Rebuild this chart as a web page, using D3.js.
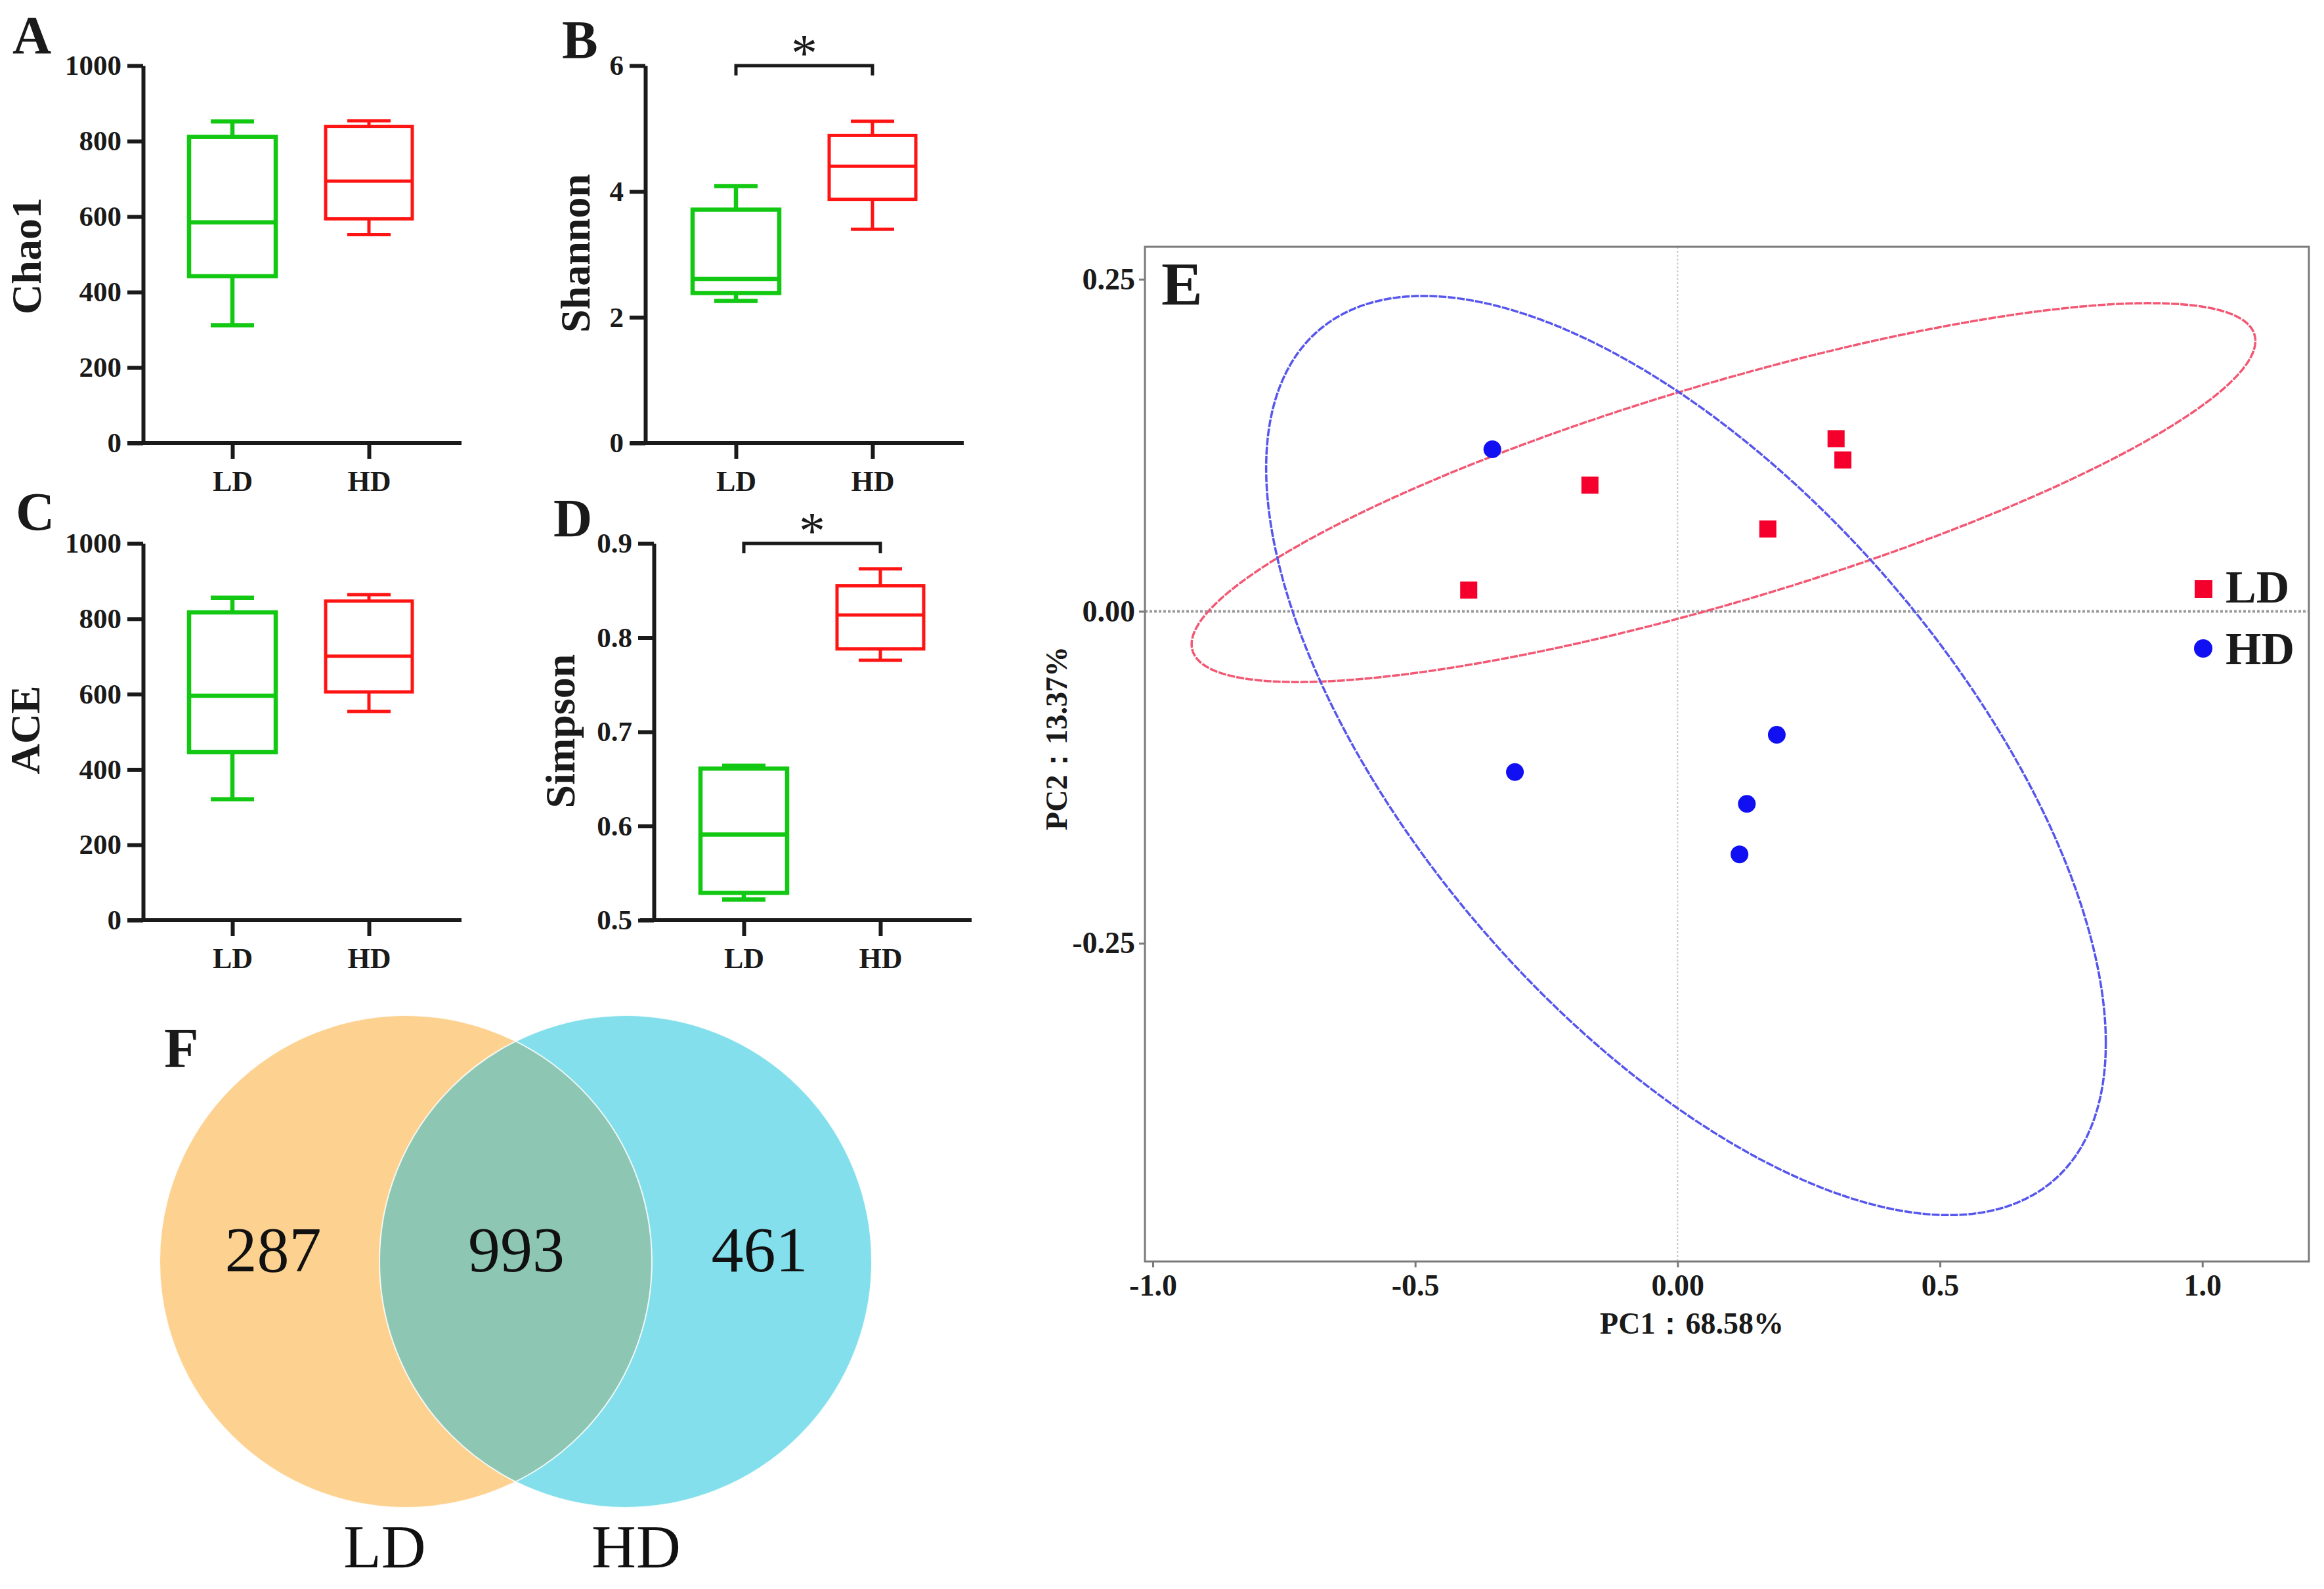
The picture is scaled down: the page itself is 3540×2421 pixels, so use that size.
<!DOCTYPE html>
<html><head><meta charset="utf-8">
<script src="https://cdn.jsdelivr.net/npm/d3@7"></script>
<style>body{margin:0;background:#fff} svg{display:block}</style>
</head><body>
<svg id="fig" width="3540" height="2421"></svg>
<script>
// ---------------- DATA ----------------
const groups = ["LD", "HD"];
// five-number summaries: [min, q1, median, q3, max]
const chao1LD   = [312, 442, 585, 811, 852];
const chao1HD   = [552, 594, 694, 839, 854];
const shannonLD = [2.26, 2.385, 2.61, 3.71, 4.085];
const shannonHD = [3.40, 3.875, 4.40, 4.89, 5.115];
const aceLD     = [321, 446, 596, 817, 856];
const aceHD     = [554, 606, 701, 847, 864];
const simpsonLD = [0.522, 0.529, 0.591, 0.661, 0.664];
const simpsonHD = [0.776, 0.788, 0.824, 0.855, 0.873];
const chao1Ticks   = [0, 200, 400, 600, 800, 1000];
const shannonTicks = [0, 2, 4, 6];
const aceTicks     = [0, 200, 400, 600, 800, 1000];
const simpsonTicks = [0.5, 0.6, 0.7, 0.8, 0.9];

// PCoA scores
const pcoaLDx = [-0.398, -0.167, 0.172, 0.302, 0.315];
const pcoaLDy = [0.016, 0.095, 0.062, 0.130, 0.114];
const pcoaHDx = [-0.353, -0.310, 0.189, 0.132, 0.118];
const pcoaHDy = [0.122, -0.121, -0.093, -0.145, -0.183];
const pcXTicks = [-1, -0.5, 0, 0.5, 1];
const pcXTickLabels = ["-1.0", "-0.5", "0.00", "0.5", "1.0"];
const pcYTicks = [0.25, 0, -0.25];
const pcYTickLabels = ["0.25", "0.00", "-0.25"];
// confidence ellipses (data units): centre + two conjugate semi-diameters
const ellipseLD = {cx: 0.0875, cy: 0.0894, ax: 1.0135, ay: 0.1142, bx: 0, by: 0.0855};
const ellipseHD = {cx: 0.016, cy: -0.1086, ax: 0.800, ay: -0.2165, bx: 0, by: 0.270};

// Venn
const vennRegions = ["LD only", "LD and HD", "HD only"];
const vennCounts = [287, 993, 461];

// ---------------- STYLE ----------------
const SERIF = "'Liberation Serif','Times New Roman',Times,serif";
const GREEN = "#12c812", RED = "#ff1414", AXIS = "#1a1a1a";
const svg = d3.select("#fig");
svg.append("rect").attr("width", 3540).attr("height", 2421).attr("fill", "#fff");

// ---------------- BOX PANELS ----------------
function boxPanel(cfg) {
  const y = d3.scaleLinear().domain(cfg.domain).range([cfg.yBot, cfg.yTop]);
  const x = d3.scalePoint().domain(groups).range(cfg.centers);
  const g = svg.append("g");

  // y axis
  const ya = g.append("g").attr("transform", `translate(${cfg.x0},0)`)
    .call(d3.axisLeft(y).tickValues(cfg.ticks).tickSize(24).tickSizeOuter(0)
      .tickPadding(9).tickFormat(cfg.fmt));
  ya.select(".domain").attr("stroke", AXIS).attr("stroke-width", 6);
  ya.selectAll(".tick line").attr("stroke", AXIS).attr("stroke-width", 6);
  ya.selectAll(".tick text").attr("fill", AXIS).style("font-family", SERIF)
    .style("font-size", "43px").style("font-weight", "bold");

  // x axis
  const xa = g.append("g").attr("transform", `translate(0,${cfg.yBot})`)
    .call(d3.axisBottom(x).tickSize(24).tickSizeOuter(0).tickPadding(18));
  xa.select(".domain").remove();
  xa.append("line").attr("x1", cfg.xStart).attr("x2", cfg.xEnd)
    .attr("stroke", AXIS).attr("stroke-width", 6);
  xa.selectAll(".tick line").attr("stroke", AXIS).attr("stroke-width", 6);
  xa.selectAll(".tick text").attr("fill", AXIS).style("font-family", SERIF)
    .style("font-size", "44px").style("font-weight", "bold");

  // boxes
  const hw = 66, cw = 33;
  cfg.stats.forEach((s, i) => {
    const cx = x(groups[i]);
    const col = i === 0 ? GREEN : RED;
    const sw = i === 0 ? 6.5 : 5;
    const b = g.append("g").attr("stroke", col).attr("stroke-width", sw).attr("fill", "none");
    b.append("line").attr("x1", cx).attr("x2", cx).attr("y1", y(s[4])).attr("y2", y(s[3]));
    b.append("line").attr("x1", cx).attr("x2", cx).attr("y1", y(s[1])).attr("y2", y(s[0]));
    b.append("line").attr("x1", cx - cw).attr("x2", cx + cw).attr("y1", y(s[4])).attr("y2", y(s[4]));
    b.append("line").attr("x1", cx - cw).attr("x2", cx + cw).attr("y1", y(s[0])).attr("y2", y(s[0]));
    b.append("rect").attr("x", cx - hw).attr("width", 2 * hw)
      .attr("y", y(s[3])).attr("height", y(s[1]) - y(s[3]));
    b.append("line").attr("x1", cx - hw).attr("x2", cx + hw).attr("y1", y(s[2])).attr("y2", y(s[2]));
  });

  // significance bracket
  if (cfg.sig) {
    const by = y(cfg.domain[1]);
    g.append("path")
      .attr("d", `M${x("LD")},${by + 15}V${by}H${x("HD")}V${by + 15}`)
      .attr("fill", "none").attr("stroke", AXIS).attr("stroke-width", 5);
    g.append("text").attr("x", (x("LD") + x("HD")) / 2).attr("y", by + 8)
      .attr("text-anchor", "middle").style("font-family", SERIF)
      .style("font-size", "80px").attr("fill", AXIS).text(cfg.sig);
  }

  // y title
  g.append("text").attr("transform", `translate(${cfg.titleX},${cfg.titleY}) rotate(-90)`)
    .attr("text-anchor", "middle").style("font-family", SERIF).style("font-size", "64px")
    .style("font-weight", "bold").attr("fill", AXIS).text(cfg.title);
  // panel letter
  g.append("text").attr("x", cfg.letterX).attr("y", cfg.letterY).style("font-family", SERIF)
    .style("font-size", "82px").style("font-weight", "bold").attr("fill", AXIS).text(cfg.letter);
}

const fmtInt = d3.format("d");
boxPanel({letter: "A", letterX: 19, letterY: 81, title: "Chao1", titleX: 62, titleY: 390,
  domain: [0, 1000], ticks: chao1Ticks, fmt: fmtInt, stats: [chao1LD, chao1HD],
  x0: 218, yTop: 100, yBot: 675, xStart: 194, xEnd: 703, centers: [354, 562]});
boxPanel({letter: "B", letterX: 856, letterY: 88, title: "Shannon", titleX: 898, titleY: 386,
  domain: [0, 6], ticks: shannonTicks, fmt: fmtInt, stats: [shannonLD, shannonHD], sig: "*",
  x0: 983, yTop: 100, yBot: 675, xStart: 960, xEnd: 1468, centers: [1121, 1329]});
boxPanel({letter: "C", letterX: 24, letterY: 807, title: "ACE", titleX: 60, titleY: 1112,
  domain: [0, 1000], ticks: aceTicks, fmt: fmtInt, stats: [aceLD, aceHD],
  x0: 218, yTop: 828, yBot: 1402, xStart: 194, xEnd: 703, centers: [354, 562]});
boxPanel({letter: "D", letterX: 843, letterY: 817, title: "Simpson", titleX: 875, titleY: 1114,
  domain: [0.5, 0.9], ticks: simpsonTicks, fmt: d3.format(".1f"), stats: [simpsonLD, simpsonHD], sig: "*",
  x0: 996, yTop: 828, yBot: 1402, xStart: 975, xEnd: 1480, centers: [1133, 1341]});

// ---------------- PANEL E: PCoA ----------------
(function () {
  const L = 1744, R = 3517, T = 376, B = 1922;
  const x = d3.scaleLinear().domain([-1.015, 1.203]).range([L, R]);
  const y = d3.scaleLinear().domain([-0.4896, 0.2745]).range([B, T]);
  const g = svg.append("g");

  // zero reference lines
  g.append("line").attr("x1", x(0)).attr("x2", x(0)).attr("y1", T).attr("y2", B)
    .attr("stroke", "#c8c8c8").attr("stroke-width", 2).attr("stroke-dasharray", "3 3");
  g.append("line").attr("x1", L).attr("x2", R).attr("y1", y(0)).attr("y2", y(0))
    .attr("stroke", "#9a9a9a").attr("stroke-width", 4).attr("stroke-dasharray", "4 3");

  // ellipses
  const ts = d3.range(0, 2 * Math.PI, Math.PI / 180);
  const line = d3.line().curve(d3.curveLinearClosed);
  [[ellipseLD, "#f25874"], [ellipseHD, "#5656ee"]].forEach(([e, col]) => {
    const pts = ts.map(t => [x(e.cx + e.ax * Math.cos(t) + e.bx * Math.sin(t)),
                             y(e.cy + e.ay * Math.cos(t) + e.by * Math.sin(t))]);
    g.append("path").attr("d", line(pts)).attr("fill", "none").attr("stroke", col)
      .attr("stroke-width", 3.5).attr("stroke-dasharray", "12 2");
  });

  // points
  pcoaLDx.forEach((v, i) => {
    g.append("rect").attr("x", x(v) - 13).attr("y", y(pcoaLDy[i]) - 13)
      .attr("width", 26).attr("height", 26).attr("fill", "#f5002c");
  });
  pcoaHDx.forEach((v, i) => {
    g.append("circle").attr("cx", x(v)).attr("cy", y(pcoaHDy[i])).attr("r", 13.5).attr("fill", "#1010f2");
  });

  // frame
  g.append("rect").attr("x", L).attr("y", T).attr("width", R - L).attr("height", B - T)
    .attr("fill", "none").attr("stroke", "#7a7a7a").attr("stroke-width", 3);

  // axes
  const xa = g.append("g").attr("transform", `translate(0,${B})`)
    .call(d3.axisBottom(x).tickValues(pcXTicks).tickSize(9).tickSizeOuter(0).tickPadding(10)
      .tickFormat((d, i) => pcXTickLabels[i]));
  const ya = g.append("g").attr("transform", `translate(${L},0)`)
    .call(d3.axisLeft(y).tickValues(pcYTicks).tickSize(9).tickSizeOuter(0).tickPadding(6)
      .tickFormat((d, i) => pcYTickLabels[i]));
  [xa, ya].forEach(a => {
    a.select(".domain").remove();
    a.selectAll(".tick line").attr("stroke", "#7a7a7a").attr("stroke-width", 3);
    a.selectAll(".tick text").attr("fill", AXIS).style("font-family", SERIF)
      .style("font-size", "46px").style("font-weight", "bold");
  });

  g.append("text").attr("x", 2577).attr("y", 2032).attr("text-anchor", "middle")
    .style("font-family", SERIF).style("font-size", "46px").style("font-weight", "bold")
    .attr("fill", AXIS).text("PC1：68.58%");
  g.append("text").attr("transform", `translate(1625,1125) rotate(-90)`).attr("text-anchor", "middle")
    .style("font-family", SERIF).style("font-size", "46px").style("font-weight", "bold")
    .attr("fill", AXIS).text("PC2：13.37%");

  // panel letter
  g.append("text").attr("x", 1769).attr("y", 464).style("font-family", SERIF)
    .style("font-size", "94px").style("font-weight", "bold").attr("fill", AXIS).text("E");

  // legend
  const leg = g.append("g");
  leg.append("rect").attr("x", 3343).attr("y", 884).attr("width", 27).attr("height", 27).attr("fill", "#f5002c");
  leg.append("circle").attr("cx", 3356).attr("cy", 988).attr("r", 14).attr("fill", "#1010f2");
  leg.selectAll("text.lg").data(groups).join("text").attr("class", "lg")
    .attr("x", 3390).attr("y", (d, i) => i === 0 ? 918 : 1012)
    .style("font-family", SERIF).style("font-size", "70px").style("font-weight", "bold")
    .attr("fill", AXIS).text(d => d);
})();

// ---------------- PANEL F: Venn ----------------
(function () {
  const cx = d3.scalePoint().domain(groups).range([618, 953]);
  const cy = 1922, r = 375;
  const fills = {LD: "#fdd18f", HD: "#82dfeb"};
  const g = svg.append("g");
  groups.forEach(k => g.append("circle").attr("cx", cx(k)).attr("cy", cy).attr("r", r).attr("fill", fills[k]));
  g.append("clipPath").attr("id", "clipLD").append("circle")
    .attr("cx", cx("LD")).attr("cy", cy).attr("r", r);
  g.append("circle").attr("cx", cx("HD")).attr("cy", cy).attr("r", r)
    .attr("clip-path", "url(#clipLD)").attr("fill", "#8ec6b4");
  groups.forEach(k => g.append("circle").attr("cx", cx(k)).attr("cy", cy).attr("r", r)
    .attr("fill", "none").attr("stroke", "#ffffff").attr("stroke-width", 2).attr("stroke-opacity", 0.85));

  const nx = d3.scalePoint().domain(vennRegions).range([416, 1157]);
  g.selectAll("text.cnt").data(vennRegions).join("text").attr("class", "cnt")
    .attr("x", d => nx(d)).attr("y", 1937).attr("text-anchor", "middle")
    .style("font-family", SERIF).style("font-size", "98px").attr("fill", "#111")
    .text((d, i) => vennCounts[i]);

  const lx = d3.scalePoint().domain(groups).range([586, 969]);
  g.selectAll("text.set").data(groups).join("text").attr("class", "set")
    .attr("x", d => lx(d)).attr("y", 2388).attr("text-anchor", "middle")
    .style("font-family", SERIF).style("font-size", "94px").attr("fill", "#111").text(d => d);

  g.append("text").attr("x", 250).attr("y", 1626).style("font-family", SERIF)
    .style("font-size", "86px").style("font-weight", "bold").attr("fill", AXIS).text("F");
})();
</script>
</body></html>
